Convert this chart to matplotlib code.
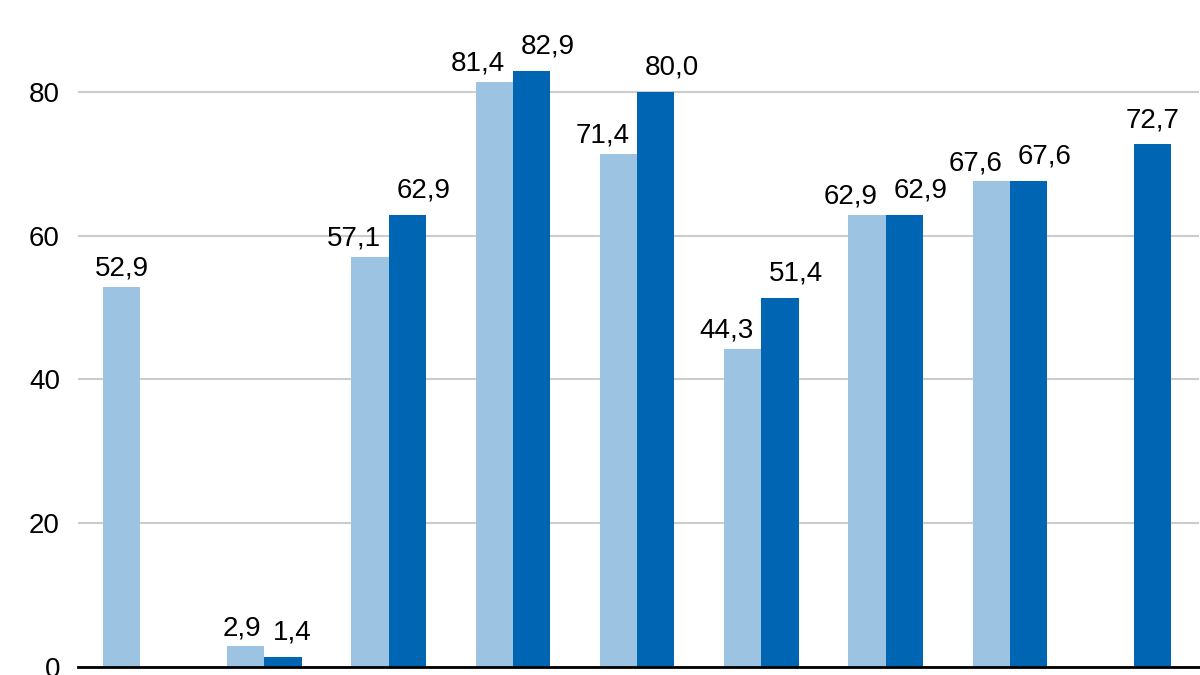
import numpy as np
import matplotlib.pyplot as plt

plt.rcParams['font.family'] = ['Liberation Sans', 'DejaVu Sans']

groups = np.arange(9)
light = [52.9, 2.9, 57.1, 81.4, 71.4, 44.3, 62.9, 67.6, np.nan]
dark = [np.nan, 1.4, 62.9, 82.9, 80.0, 51.4, 62.9, 67.6, 72.7]

c_light = '#9dc3e2'
c_dark = '#0066b3'
w = 0.3

fig = plt.figure(figsize=(12, 6.75), dpi=100)
ax = fig.add_axes([0.065, 8 / 675, 0.934, 1 - 8 / 675])

b1 = ax.bar(groups - w / 2, light, w, color=c_light, zorder=3)
b2 = ax.bar(groups + w / 2, dark, w, color=c_dark, zorder=3)

# labels of paired bars are pushed apart so they don't collide
for i in groups:
    pair = not (np.isnan(light[i]) or np.isnan(dark[i]))
    for bars, vals, sign, dy in ((b1, light, -1, 8), (b2, dark, 1, 12.5)):
        v = vals[i]
        if np.isnan(v):
            continue
        dx = 0
        if pair:
            if v < 5:
                dx = -3 if sign < 0 else 7
            else:
                dx = 11.5 * sign
        rect = bars[i]
        ax.annotate(f'{v:.1f}'.replace('.', ','),
                    (rect.get_x() + rect.get_width() / 2, v),
                    xytext=(dx, dy), textcoords='offset points',
                    ha='center', va='baseline', fontsize=20, zorder=4)

ax.set_xlim(-0.5, 8.52)
ax.set_ylim(0, 92.8)
ax.set_yticks([0, 20, 40, 60, 80])
ax.set_xticks([])
ax.yaxis.grid(True, color='#cccccc', linewidth=1.5, zorder=0)
ax.tick_params(axis='y', length=0, pad=13, labelsize=20)
for s in ('top', 'right', 'left'):
    ax.spines[s].set_visible(False)
ax.spines['bottom'].set_linewidth(2)
ax.spines['bottom'].set_zorder(5)

fig.savefig('out.png', dpi=100)
